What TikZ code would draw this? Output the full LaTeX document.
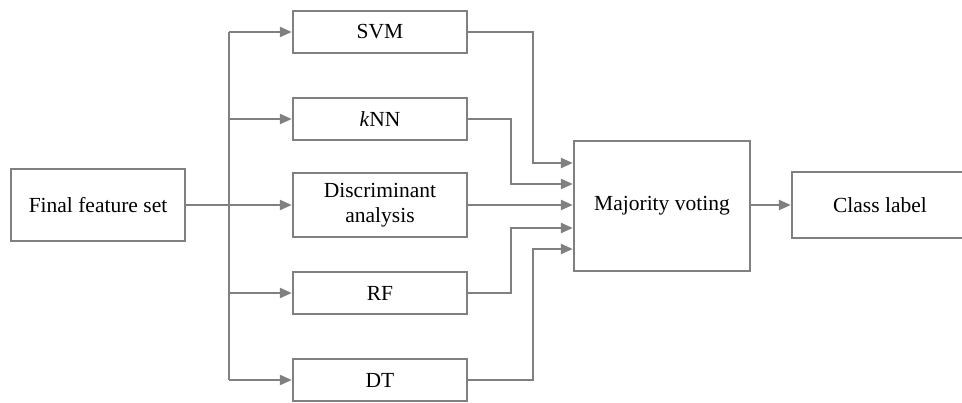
\documentclass[tikz,border=0pt]{standalone}
\usepackage{fontspec}
\setmainfont{Liberation Serif}
\usetikzlibrary{arrows.meta,positioning}

\definecolor{linegray}{RGB}{128,128,128}

\tikzset{
  box/.style={draw=linegray, line width=2.4pt, inner sep=0pt, align=center,
    font=\fontsize{21.5}{25}\selectfont},
  flow/.style={draw=linegray, line width=2.4pt},
  arr/.style={flow, -{Triangle[length=12pt,width=10pt]}}
}

\begin{document}
\begin{tikzpicture}[x=1pt,y=-1pt]
  \clip (0,0) rectangle (962,403);

  % input and classifiers
  \node[box, minimum width=174pt, minimum height=72pt] (feat) at (98,205) {Final feature set};
  \node[box, minimum width=174pt, minimum height=42pt] (svm)  at (380,32)  {SVM};
  \node[box, minimum width=174pt, minimum height=42pt] (knn)  at (380,119) {\textit{k}NN};
  \node[box, minimum width=174pt, minimum height=64pt] (disc) at (380,205) {Discriminant\\analysis};
  \node[box, minimum width=174pt, minimum height=42pt] (rf)   at (380,293) {RF};
  \node[box, minimum width=174pt, minimum height=42pt] (dt)   at (380,380) {DT};

  % voting and output
  \node[box, minimum width=176pt, minimum height=130pt] (vote) at (662,206) {Majority voting};
  \node[box, minimum width=176pt, minimum height=66pt]  (cls)  at (880,205) {Class label};

  % split to the classifiers
  \coordinate (split) at (229,205);
  \draw[arr] (feat.east) -- (feat.east -| disc.west);
  \draw[flow] (split |- svm.west) -- (split |- dt.west);
  \foreach \n in {svm, knn, rf, dt} {
    \draw[arr] (split |- \n.west) -- (\n.west);
  }

  % classifiers to voting
  \foreach \n/\dx/\dy in {svm/65/43, knn/43/22, rf/43/-22, dt/65/-43} {
    \draw[arr] (\n.east) -- ++(\dx,0) |- ([yshift=\dy pt]vote.west);
  }
  \draw[arr] (disc.east) -- (disc.east -| vote.west);

  \draw[arr] (vote.east |- disc.east) -- (disc.east -| cls.west);
\end{tikzpicture}
\end{document}
